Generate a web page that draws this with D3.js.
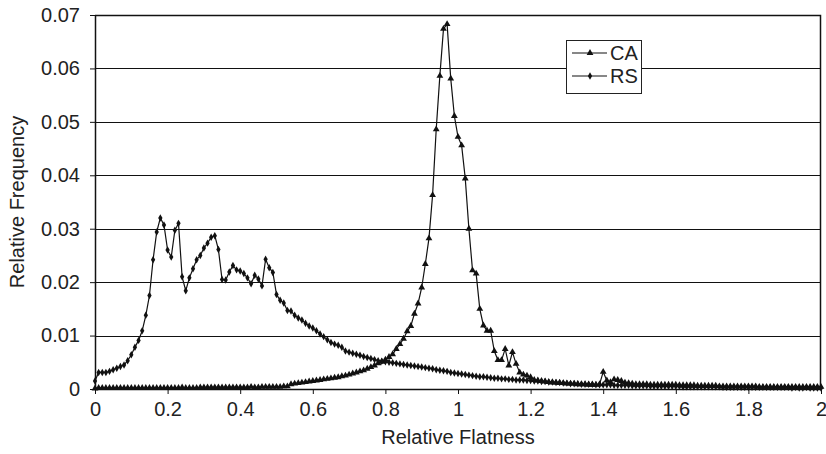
<!DOCTYPE html>
<html>
<head>
<meta charset="utf-8">
<script src="https://cdn.jsdelivr.net/npm/d3@7"></script>
<style>
  body { margin: 0; background: #fff; }
  svg text { font-family: "Liberation Sans", Arial, sans-serif; fill: #222; }
</style>
</head>
<body>
<div class="canvas"></div>
<script>
// bins of relative flatness, 0.00 .. 2.00 in steps of 0.01
const flatness = d3.range(201).map(i => i / 100);

// CA series, one value per bin
const caValues = [
  0.0001, 0.0002, 0.0002, 0.0002, 0.0002, 0.0002, 0.0002, 0.0002, 0.0002, 0.0002,
  0.0002, 0.0002, 0.0002, 0.0002, 0.0002, 0.0002, 0.0002, 0.0002, 0.0002, 0.0002,
  0.0002, 0.0002, 0.0002, 0.0002, 0.0003, 0.0002, 0.0002, 0.0002, 0.0002, 0.0003,
  0.0003, 0.0003, 0.0003, 0.0003, 0.0003, 0.0003, 0.0003, 0.0003, 0.0003, 0.0003,
  0.0003, 0.0003, 0.0003, 0.0004, 0.0003, 0.0003, 0.0004, 0.0004, 0.0004, 0.0004,
  0.0004, 0.0004, 0.0005, 0.0005, 0.0009, 0.0010, 0.0011, 0.0012, 0.0013, 0.0014,
  0.0015, 0.0016, 0.0017, 0.0018, 0.0019, 0.0020, 0.0021, 0.0022, 0.0024, 0.0025,
  0.0027, 0.0029, 0.0031, 0.0033, 0.0035, 0.0038, 0.0041, 0.0044, 0.0048, 0.0051,
  0.0055, 0.0060, 0.0065, 0.0075, 0.0084, 0.0094, 0.0108, 0.0118, 0.0141, 0.0160,
  0.0190, 0.0234, 0.0282, 0.0363, 0.0486, 0.0586, 0.0674, 0.0683, 0.0581, 0.0511,
  0.0472, 0.0456, 0.0394, 0.0300, 0.0222, 0.0216, 0.0150, 0.0119, 0.0109, 0.0109,
  0.0071, 0.0054, 0.0054, 0.0075, 0.0044, 0.0069, 0.0047, 0.0031, 0.0027, 0.0025,
  0.0022, 0.0017, 0.0016, 0.0015, 0.0014, 0.0013, 0.0012, 0.0012, 0.0011, 0.0011,
  0.0010, 0.0010, 0.0010, 0.0009, 0.0009, 0.0009, 0.0008, 0.0008, 0.0008, 0.0009,
  0.0032, 0.0016, 0.0013, 0.0018, 0.0017, 0.0015, 0.0012, 0.0011, 0.0010, 0.0009,
  0.0009, 0.0009, 0.0009, 0.0008, 0.0008, 0.0008, 0.0008, 0.0008, 0.0008, 0.0008,
  0.0008, 0.0007, 0.0007, 0.0007, 0.0007, 0.0007, 0.0006, 0.0006, 0.0006, 0.0006,
  0.0006, 0.0006, 0.0005, 0.0005, 0.0005, 0.0005, 0.0005, 0.0005, 0.0005, 0.0005,
  0.0005, 0.0005, 0.0005, 0.0004, 0.0004, 0.0004, 0.0004, 0.0004, 0.0004, 0.0004,
  0.0004, 0.0004, 0.0004, 0.0004, 0.0004, 0.0004, 0.0004, 0.0004, 0.0004, 0.0004,
  0.0004
];

// RS series, one value per bin
const rsValues = [
  0.0015, 0.0031, 0.0031, 0.0031, 0.0033, 0.0036, 0.0039, 0.0042, 0.0045, 0.0053,
  0.0064, 0.0078, 0.0091, 0.0109, 0.0138, 0.0175, 0.0242, 0.0294, 0.0320, 0.0307,
  0.0260, 0.0247, 0.0297, 0.0310, 0.0210, 0.0184, 0.0208, 0.0225, 0.0242, 0.0250,
  0.0264, 0.0273, 0.0284, 0.0287, 0.0261, 0.0205, 0.0204, 0.0219, 0.0231, 0.0223,
  0.0221, 0.0216, 0.0208, 0.0197, 0.0213, 0.0206, 0.0193, 0.0243, 0.0227, 0.0218,
  0.0177, 0.0166, 0.0161, 0.0147, 0.0146, 0.0138, 0.0133, 0.0129, 0.0123, 0.0118,
  0.0114, 0.0109, 0.0103, 0.0098, 0.0092, 0.0087, 0.0084, 0.0082, 0.0078, 0.0071,
  0.0069, 0.0067, 0.0065, 0.0063, 0.0061, 0.0059, 0.0057, 0.0055, 0.0053, 0.0052,
  0.0051, 0.0050, 0.0049, 0.0048, 0.0047, 0.0046, 0.0045, 0.0044, 0.0043, 0.0042,
  0.0041, 0.0040, 0.0039, 0.0038, 0.0036, 0.0035, 0.0034, 0.0033, 0.0031, 0.0030,
  0.0029, 0.0028, 0.0027, 0.0026, 0.0025, 0.0024, 0.0023, 0.0023, 0.0022, 0.0021,
  0.0020, 0.0020, 0.0019, 0.0019, 0.0018, 0.0018, 0.0017, 0.0017, 0.0017, 0.0016,
  0.0016, 0.0015, 0.0015, 0.0014, 0.0014, 0.0013, 0.0013, 0.0012, 0.0012, 0.0011,
  0.0011, 0.0010, 0.0010, 0.0010, 0.0009, 0.0009, 0.0009, 0.0009, 0.0008, 0.0008,
  0.0008, 0.0008, 0.0008, 0.0007, 0.0007, 0.0007, 0.0007, 0.0007, 0.0006, 0.0006,
  0.0006, 0.0006, 0.0006, 0.0005, 0.0005, 0.0005, 0.0005, 0.0005, 0.0005, 0.0005,
  0.0005, 0.0005, 0.0004, 0.0004, 0.0004, 0.0004, 0.0004, 0.0004, 0.0004, 0.0004,
  0.0004, 0.0004, 0.0004, 0.0003, 0.0003, 0.0003, 0.0003, 0.0003, 0.0003, 0.0003,
  0.0003, 0.0003, 0.0003, 0.0003, 0.0003, 0.0003, 0.0003, 0.0003, 0.0003, 0.0003,
  0.0003, 0.0003, 0.0002, 0.0003, 0.0002, 0.0002, 0.0003, 0.0002, 0.0002, 0.0002,
  0.0002
];

const xTicks = [0, 0.2, 0.4, 0.6, 0.8, 1, 1.2, 1.4, 1.6, 1.8, 2];
const yTicks = [0, 0.01, 0.02, 0.03, 0.04, 0.05, 0.06, 0.07];
const seriesNames = ['CA', 'RS'];

const dims = { w: 826, h: 454 };
const margin = { top: 15, right: 5, bottom: 65, left: 95 };
const inner = { w: dims.w - margin.left - margin.right, h: dims.h - margin.top - margin.bottom };
const fontSize = 20;

const svg = d3.select('.canvas')
  .append('svg')
    .attr('width', dims.w)
    .attr('height', dims.h);

const graph = svg.append('g')
  .attr('transform', `translate(${margin.left},${margin.top})`);

// scales
const x = d3.scaleLinear().domain([0, 2]).range([0, inner.w]);
const y = d3.scaleLinear().domain([0, 0.07]).range([inner.h, 0]);

// horizontal gridlines
graph.append('g')
  .selectAll('line')
  .data(yTicks.slice(1))
  .enter().append('line')
    .attr('x1', 0)
    .attr('x2', inner.w)
    .attr('y1', d => Math.round(y(d)) + 0.5)
    .attr('y2', d => Math.round(y(d)) + 0.5)
    .attr('stroke', '#111')
    .attr('stroke-width', 1);

// plot border (top/right)
graph.append('path')
  .attr('d', `M0,0.5H${inner.w - 0.5}V${inner.h}`)
  .attr('fill', 'none')
  .attr('stroke', '#111')
  .attr('stroke-width', 1.5);

// axes
const fmt = d => String(+d.toFixed(2));

const xAxis = graph.append('g')
  .attr('transform', `translate(0,${inner.h})`)
  .call(d3.axisBottom(x).tickValues(xTicks).tickFormat(fmt).tickSize(5).tickSizeOuter(0).tickPadding(8));

const yAxis = graph.append('g')
  .call(d3.axisLeft(y).tickValues(yTicks).tickFormat(fmt).tickSize(5).tickSizeOuter(0).tickPadding(10));

[xAxis, yAxis].forEach(ax => {
  ax.select('.domain').attr('stroke', '#111').attr('stroke-width', 1.5);
  ax.selectAll('.tick line').attr('stroke', '#111');
  ax.selectAll('text')
    .attr('font-size', fontSize)
    .attr('fill', '#222')
    .style('font-family', '"Liberation Sans", Arial, sans-serif');
});

// axis titles
svg.append('text')
  .attr('x', margin.left + inner.w / 2)
  .attr('y', 444)
  .attr('text-anchor', 'middle')
  .attr('font-size', fontSize)
  .text('Relative Flatness');

svg.append('text')
  .attr('transform', `translate(24,${margin.top + inner.h / 2}) rotate(-90)`)
  .attr('text-anchor', 'middle')
  .attr('font-size', fontSize)
  .text('Relative Frequency');

// series
const series = [
  { name: seriesNames[0], values: caValues, shape: d3.symbolTriangle, size: 20 },
  { name: seriesNames[1], values: rsValues, shape: d3.symbolDiamond, size: 16 }
];

const line = d3.line()
  .x(d => x(d[0]))
  .y(d => y(d[1]));

series.forEach(s => {
  const pts = flatness.map((f, i) => [f, s.values[i]]);
  const g = graph.append('g').attr('class', 'series');

  g.append('path')
    .datum(pts)
    .attr('d', line)
    .attr('fill', 'none')
    .attr('stroke', '#111')
    .attr('stroke-width', 1.2);

  g.selectAll('path.marker')
    .data(pts)
    .enter().append('path')
      .attr('class', 'marker')
      .attr('transform', d => `translate(${x(d[0])},${y(d[1])})`)
      .attr('d', d3.symbol().type(s.shape).size(s.size))
      .attr('fill', '#111');
});

// legend
const legend = svg.append('g')
  .attr('transform', 'translate(566,40)');

legend.append('rect')
  .attr('x', 0.5)
  .attr('y', 0.5)
  .attr('width', 75)
  .attr('height', 53)
  .attr('fill', '#fff')
  .attr('stroke', '#222')
  .attr('stroke-width', 1);

series.forEach((s, i) => {
  const ly = 13 + i * 23;
  legend.append('line')
    .attr('x1', 6).attr('x2', 41)
    .attr('y1', ly).attr('y2', ly)
    .attr('stroke', '#111')
    .attr('stroke-width', 1.2);
  legend.append('path')
    .attr('transform', `translate(24,${ly})`)
    .attr('d', d3.symbol().type(s.shape).size(s.size))
    .attr('fill', '#111');
  legend.append('text')
    .attr('x', 44)
    .attr('y', ly + 7)
    .attr('font-size', fontSize)
    .text(s.name);
});
</script>
</body>
</html>
